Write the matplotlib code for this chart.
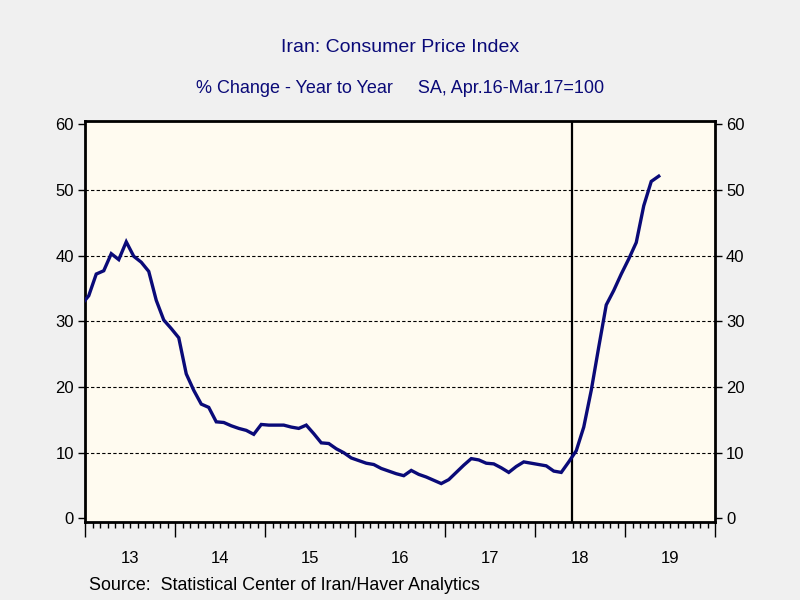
import numpy as np
import matplotlib
matplotlib.use("Agg")
import matplotlib.pyplot as plt
from matplotlib.ticker import MultipleLocator, NullFormatter

plt.rcParams.update({
    'font.family': ['Liberation Sans', 'DejaVu Sans'],
    'font.size': 12,
})

# Monthly y/y % change, Dec 2012 .. May 2019
start_year = 2012
start_month = 12
cpi_yoy = [
    32.5,                                                        # Dec 12
    33.9, 37.2, 37.7, 40.3, 39.4, 42.1, 39.9, 39.0, 37.6, 33.2, 30.2, 28.9,  # 2013
    27.5, 22.0, 19.5, 17.4, 16.9, 14.7, 14.6, 14.1, 13.7, 13.4, 12.8, 14.3,  # 2014
    14.2, 14.2, 14.2, 13.9, 13.7, 14.2, 12.9, 11.5, 11.4, 10.6, 10.0, 9.2,   # 2015
    8.8, 8.4, 8.2, 7.6, 7.2, 6.8, 6.5, 7.3, 6.7, 6.3, 5.8, 5.3,              # 2016
    5.9, 7.0, 8.1, 9.1, 8.9, 8.4, 8.3, 7.7, 7.0, 7.9, 8.6, 8.4,              # 2017
    8.2, 8.0, 7.2, 7.0, 8.6, 10.3, 13.9, 19.5, 26.1, 32.5, 34.7, 37.2,       # 2018
    39.5, 42.0, 47.6, 51.3, 52.1,                                            # 2019
]
event_date = 2018.41  # vertical marker line
year_labels = ['13', '14', '15', '16', '17', '18', '19']
first_label_year = 2013

title = 'Iran: Consumer Price Index'
subtitle = '% Change - Year to Year     SA, Apr.16-Mar.17=100'
source = 'Source:  Statistical Center of Iran/Haver Analytics'

navy = '#0A0A78'
x = start_year + (start_month - 1 + 0.5) / 12 + np.arange(len(cpi_yoy)) / 12

fig = plt.figure(figsize=(8, 6), dpi=100, facecolor='#F0F0F0')
ax = fig.add_axes([85 / 800, 78 / 600, 630 / 800, 401 / 600])
ax.set_facecolor('#FFFBF0')

for v in [10, 20, 30, 40, 50]:
    ax.axhline(v, color='black', lw=0.8, ls=(0, (3, 2)), zorder=1)
ax.axvline(event_date, color='black', lw=1.6, zorder=2)
ax.plot(x, cpi_yoy, color=navy, lw=2.4, zorder=3, solid_joinstyle='miter')

ax.set_xlim(2013, 2020)
ax.set_ylim(-0.55, 60.5)
ax.set_yticks(np.arange(0, 61, 10))
ax.tick_params(axis='y', which='both', direction='out', length=5, width=1,
               left=True, right=True, labelleft=True, labelright=True, labelsize=12, pad=3)

ax.xaxis.set_major_locator(MultipleLocator(1))
ax.xaxis.set_minor_locator(MultipleLocator(1 / 12))
ax.xaxis.set_major_formatter(NullFormatter())
ax.tick_params(axis='x', which='major', direction='out', length=11, width=1)
ax.tick_params(axis='x', which='minor', direction='out', length=4.5, width=1)

sec = ax.secondary_xaxis('bottom')
sec.set_xticks([first_label_year + i + 0.5 for i in range(len(year_labels))])
sec.set_xticklabels(year_labels)
sec.tick_params(length=0, pad=21, labelsize=12)
sec.spines['bottom'].set_visible(False)

for s in ax.spines.values():
    s.set_linewidth(2)

fig.text(0.5, 1 - 48 / 600, title, ha='center', va='center', color=navy, fontsize=14)
fig.text(0.5, 1 - 88 / 600, subtitle, ha='center', va='center', color=navy, fontsize=13)
fig.text(89 / 800, 1 - 586 / 600, source, ha='left', va='center', color='black', fontsize=12.9)

fig.savefig('out.png', dpi=100, facecolor=fig.get_facecolor())
